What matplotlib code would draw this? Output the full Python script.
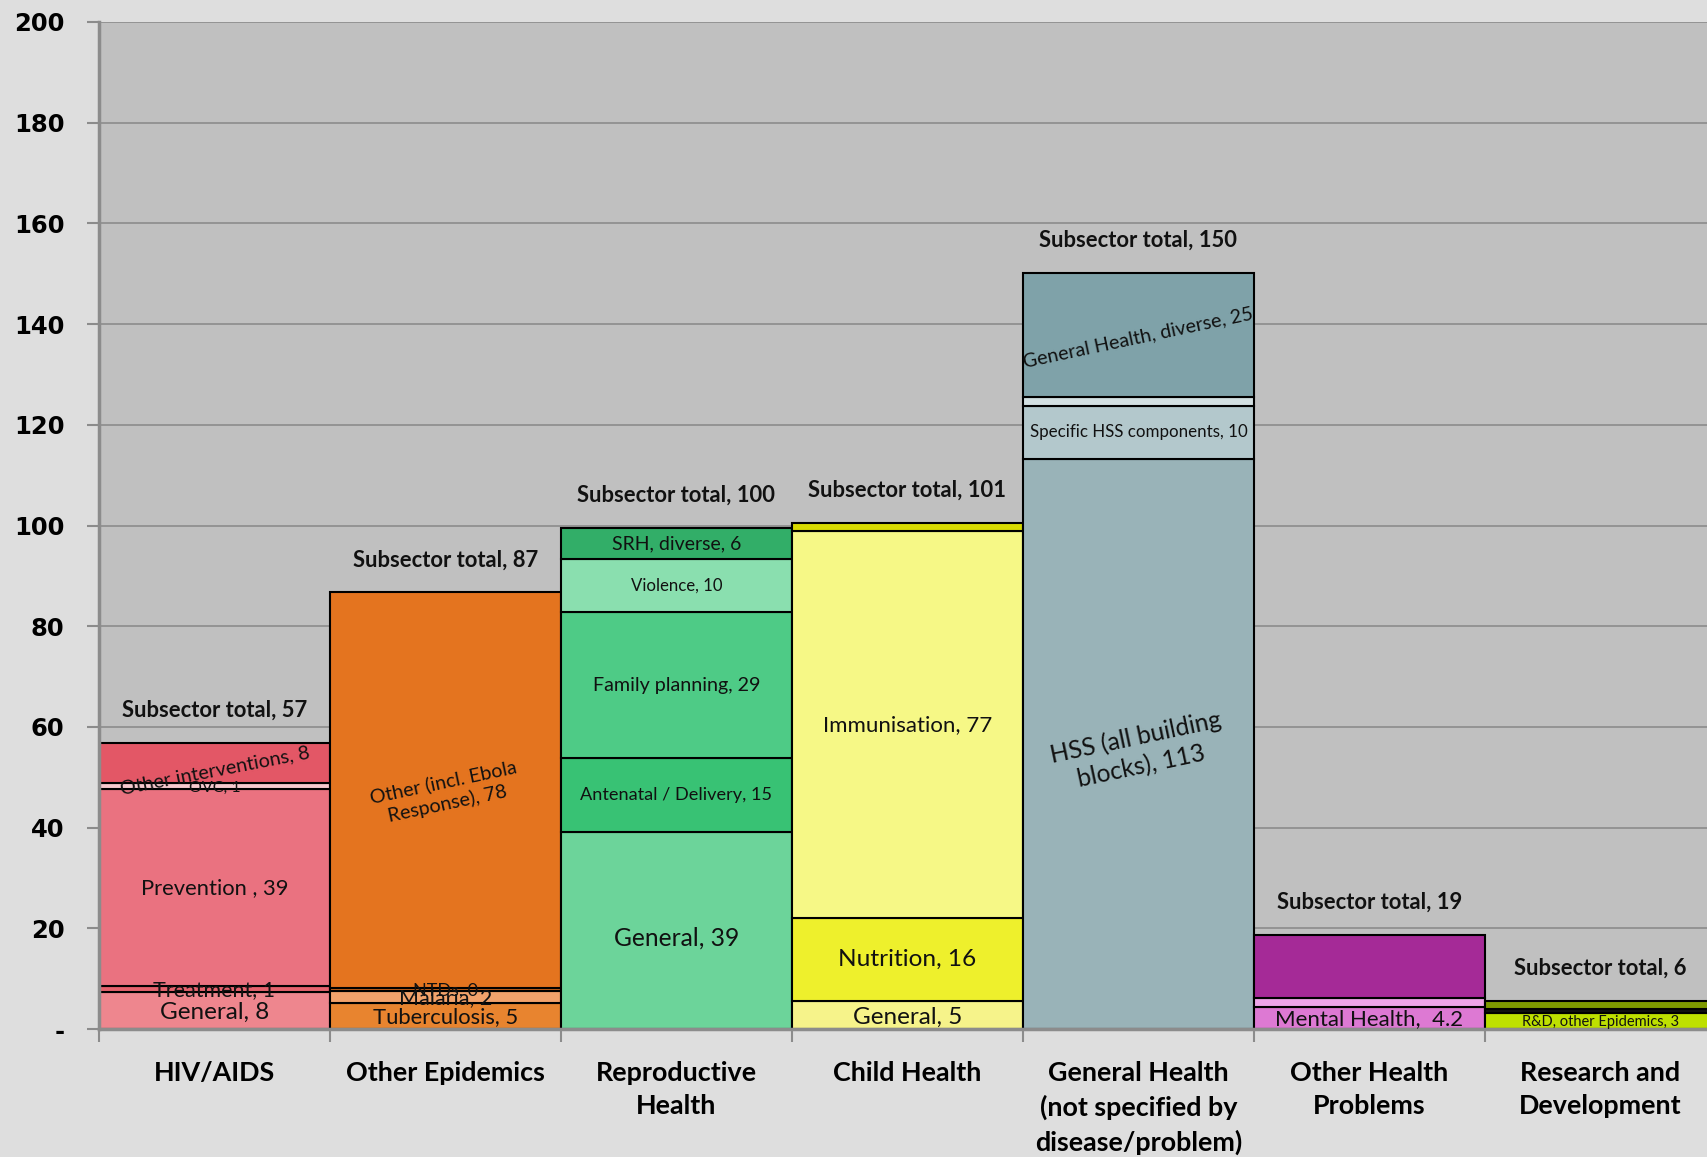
import matplotlib
matplotlib.use("Agg")
import matplotlib.pyplot as plt

# ---------------- data ----------------
categories = ["HIV/AIDS", "Other Epidemics", "Reproductive\nHealth", "Child Health",
              "General Health\n(not specified by\ndisease/problem)", "Other Health\nProblems",
              "Research and\nDevelopment"]
subsector_totals = [57, 87, 100, 101, 150, 19, 6]

hiv_values = [7.4, 1.1, 39.1, 1.2, 8.0]
hiv_labels = ["General, 8", "Treatment, 1", "Prevention , 39", "OVC, 1", "Other interventions, 8"]
hiv_colors = ["#EE868E", "#E5636E", "#EA7280", "#F6C9CE", "#E35766"]

epi_values = [5.2, 2.35, 0.65, 78.5]
epi_labels = ["Tuberculosis, 5", "Malaria, 2", "NTDs, 0", "Other (incl. Ebola\nResponse), 78"]
epi_colors = ["#E8842F", "#F2A26B", "#C8641C", "#E4741F"]

rh_values = [39.1, 14.7, 29.0, 10.5, 6.3]
rh_labels = ["General, 39", "Antenatal / Delivery, 15", "Family planning, 29", "Violence, 10", "SRH, diverse, 6"]
rh_colors = ["#6CD49A", "#38C274", "#4ECB86", "#8ADFAF", "#32AE68"]

ch_values = [5.6, 16.4, 76.9, 1.6]
ch_labels = ["General, 5", "Nutrition, 16", "Immunisation, 77", ""]
ch_colors = ["#F6F38A", "#EEF02C", "#F6F886", "#D8DA00"]

gh_values = [113.2, 10.6, 1.7, 24.6]
gh_labels = ["HSS (all building\nblocks), 113", "Specific HSS components, 10", "", "General Health, diverse, 25"]
gh_colors = ["#99B3B8", "#B3C8CC", "#D3E0E2", "#7FA2A9"]

ohp_values = [4.4, 1.7, 12.6]
ohp_labels = ["Mental Health,  4.2", "", ""]
ohp_colors = ["#DD79D3", "#EFA6EA", "#A52A97"]

rd_values = [3.1, 0.8, 1.7]
rd_labels = ["R&D, other Epidemics, 3", "", ""]
rd_colors = ["#BEE000", "#111111", "#7E9900"]

yticks = [0, 20, 40, 60, 80, 100, 120, 140, 160, 180, 200]
ytick_labels = ["-", "20", "40", "60", "80", "100", "120", "140", "160", "180", "200"]

# ---------------- styling per label ----------------
label_style = {
    "General, 8": dict(size=17.5, dy=-0.4),
    "Treatment, 1": dict(size=15.5, dy=-0.2),
    "Prevention , 39": dict(size=15.8),
    "OVC, 1": dict(size=11.5, dy=-0.3),
    "Other interventions, 8": dict(size=14.3, rot=11, dy=-1.4),
    "Tuberculosis, 5": dict(size=15.8, dy=-0.3),
    "Malaria, 2": dict(size=15.5, dy=-0.3),
    "NTDs, 0": dict(size=13, dy=-0.3),
    "Other (incl. Ebola\nResponse), 78": dict(size=14.2, rot=12, dy=-0.5),
    "General, 39": dict(size=17.7, dy=-1.5),
    "Antenatal / Delivery, 15": dict(size=13.1),
    "Family planning, 29": dict(size=14.2),
    "Violence, 10": dict(size=12.1),
    "SRH, diverse, 6": dict(size=14),
    "General, 5": dict(size=17.5, dy=-0.5),
    "Nutrition, 16": dict(size=17.6),
    "Immunisation, 77": dict(size=16),
    "HSS (all building\nblocks), 113": dict(size=17.7, rot=12, dy=-1.5),
    "Specific HSS components, 10": dict(size=12.2),
    "General Health, diverse, 25": dict(size=14.1, rot=12, dy=-0.5),
    "Mental Health,  4.2": dict(size=16, dy=-0.2),
    "R&D, other Epidemics, 3": dict(size=10.5, dy=-0.1),
}

all_values = [hiv_values, epi_values, rh_values, ch_values, gh_values, ohp_values, rd_values]
all_labels = [hiv_labels, epi_labels, rh_labels, ch_labels, gh_labels, ohp_labels, rd_labels]
all_colors = [hiv_colors, epi_colors, rh_colors, ch_colors, gh_colors, ohp_colors, rd_colors]

FONT = ["Lato", "DejaVu Sans"]
plt.rcParams["font.family"] = FONT

fig = plt.figure(figsize=(17.08, 11.57), dpi=100, facecolor="#DEDEDE")
ax = fig.add_axes([0.05796, 0.1106, 0.9467, 0.8704])
ax.set_facecolor("#C0C0C0")

for i, (vals, labs, cols) in enumerate(zip(all_values, all_labels, all_colors)):
    bottom = 0.0
    for v, lab, c in zip(vals, labs, cols):
        ax.bar(i, v, bottom=bottom, width=1.0, color=c, edgecolor="black", linewidth=1.5, zorder=3)
        if lab:
            st = label_style.get(lab, {})
            ax.text(i, bottom + v / 2 + st.get("dy", 0), lab, ha="center", va="center",
                    fontsize=st.get("size", 12), rotation=st.get("rot", 0),
                    rotation_mode="anchor", color="#111111", zorder=5, linespacing=1.3)
        bottom += v
    ax.annotate(f"Subsector total, {subsector_totals[i]}", xy=(i, bottom), xytext=(0, 23.5),
                textcoords="offset points", ha="center", va="center", fontsize=15.8,
                fontweight="bold", color="#111111", zorder=6)

ax.set_xlim(-0.5, 6.5)
ax.set_ylim(0, 200)
ax.set_yticks(yticks)
ax.set_yticklabels(ytick_labels, fontsize=17.5, fontweight="bold", family="DejaVu Sans")
ax.yaxis.grid(True, color="#8C8C8C", linewidth=1.2, zorder=0)
ax.set_axisbelow(True)

ax.set_xticks([i - 0.5 for i in range(8)])
ax.set_xticklabels([])
ax.set_xticks(range(7), minor=True)
ax.set_xticklabels(categories, minor=True, fontsize=19.4, fontweight="bold", va="top", linespacing=1.45)
ax.tick_params(axis="x", which="minor", length=0, pad=23)
ax.tick_params(axis="x", which="major", length=9, width=1.5, color="#8C8C8C", direction="out")
ax.tick_params(axis="y", length=9, width=1.5, color="#8C8C8C", direction="out", pad=16)

for side in ["top", "right"]:
    ax.spines[side].set_visible(False)
for side in ["left", "bottom"]:
    ax.spines[side].set_color("#8C8C8C")
    ax.spines[side].set_linewidth(2.5)
    ax.spines[side].set_zorder(4)

fig.savefig("out.png", dpi=100, facecolor=fig.get_facecolor())
